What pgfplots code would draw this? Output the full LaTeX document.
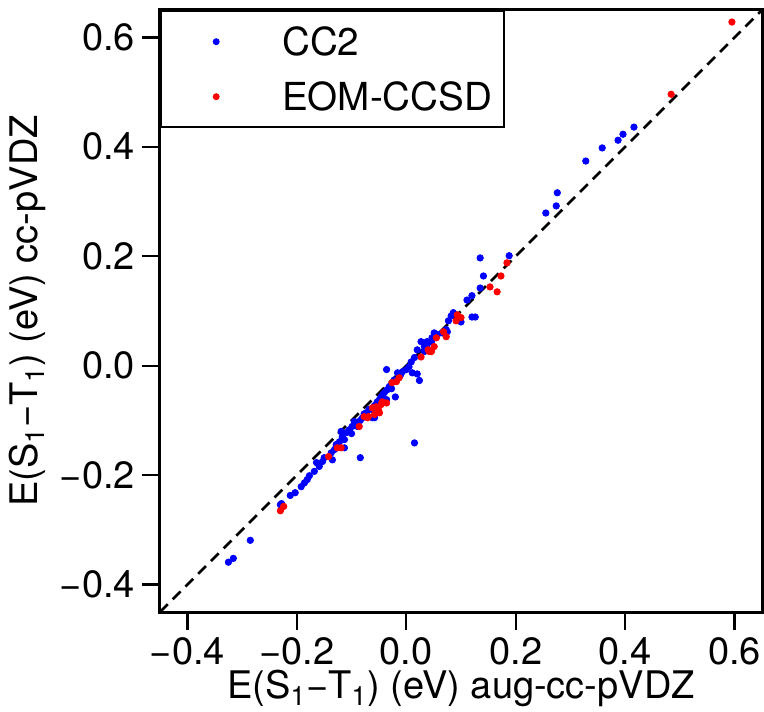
\documentclass[border=0pt]{standalone}
\usepackage{fontspec}
\setmainfont{TeX Gyre Heros}
\usepackage{pgfplots}
\usepackage{pgfplotstable}
\pgfplotsset{compat=1.18}
\pgfplotstableread{
x y
-0.325 -0.359
-0.316 -0.352
-0.285 -0.319
-0.230 -0.254
-0.228 -0.252
-0.212 -0.237
-0.203 -0.232
-0.192 -0.221
-0.186 -0.214
-0.181 -0.208
-0.177 -0.201
-0.168 -0.193
-0.164 -0.177
-0.159 -0.184
-0.153 -0.175
-0.150 -0.168
-0.137 -0.159
-0.135 -0.172
-0.131 -0.153
-0.128 -0.144
-0.122 -0.139
-0.119 -0.120
-0.117 -0.130
-0.113 -0.150
-0.113 -0.135
-0.109 -0.122
-0.104 -0.117
-0.100 -0.124
-0.099 -0.111
-0.095 -0.102
-0.092 -0.108
-0.089 -0.111
-0.084 -0.168
-0.084 -0.100
-0.080 -0.095
-0.077 -0.088
-0.073 -0.086
-0.068 -0.080
-0.062 -0.095
-0.062 -0.080
-0.058 -0.095
-0.058 -0.073
-0.055 -0.071
-0.053 -0.066
-0.049 -0.062
-0.046 -0.057
-0.043 -0.053
-0.040 -0.049
-0.036 -0.062
-0.035 -0.044
-0.031 -0.038
-0.027 -0.042
-0.020 -0.057
-0.036 -0.007
-0.022 -0.026
-0.016 -0.013
-0.011 -0.018
-0.007 -0.011
0.000 -0.007
0.005 -0.002
0.011 -0.013
0.020 -0.015
0.024 -0.027
0.009 0.007
0.015 0.015
0.020 0.029
0.033 0.026
0.038 0.038
0.047 0.051
0.057 0.057
0.066 0.060
0.075 0.062
0.027 0.044
0.033 0.035
0.038 0.044
0.046 0.044
0.051 0.060
0.073 0.066
0.077 0.082
0.082 0.091
0.086 0.097
0.100 0.080
0.120 0.089
0.126 0.089
0.111 0.120
0.120 0.128
0.135 0.142
0.141 0.164
0.135 0.197
0.188 0.201
0.255 0.279
0.274 0.292
0.276 0.316
0.328 0.374
0.358 0.398
0.387 0.412
0.396 0.423
0.416 0.436
0.015 -0.141
}\cctwo
\pgfplotstableread{
x y
0.595 0.628
0.484 0.496
-0.224 -0.257
-0.230 -0.265
-0.142 -0.166
-0.126 -0.150
-0.119 -0.150
-0.086 -0.111
-0.077 -0.093
-0.071 -0.095
-0.069 -0.093
-0.062 -0.077
-0.058 -0.089
-0.055 -0.075
-0.051 -0.080
-0.049 -0.086
-0.046 -0.071
-0.044 -0.066
-0.036 -0.068
-0.026 -0.031
-0.018 -0.029
-0.013 -0.022
0.027 0.016
0.040 0.029
0.042 0.026
0.046 0.026
0.051 0.035
0.055 0.051
0.068 0.062
0.073 0.053
0.091 0.082
0.093 0.093
0.100 0.088
0.153 0.144
0.166 0.135
0.173 0.164
0.184 0.188
}\eomccsd
\begin{document}
\begin{tikzpicture}
\begin{axis}[name=ax, scale only axis, width=301pt, height=301pt,
  xmin=-0.45, xmax=0.65, ymin=-0.45, ymax=0.65,
  axis line style={line width=1.5pt},
  tick align=outside, major tick length=9pt,
  tick style={line width=1.2pt, black},
  xtick pos=left, ytick pos=left,
  xtick={-0.4,-0.2,0,0.2,0.4,0.6}, xticklabels={−0.4,−0.2,0.0,0.2,0.4,0.6},
  ytick={-0.4,-0.2,0,0.2,0.4,0.6}, yticklabels={−0.4,−0.2,0.0,0.2,0.4,0.6},
  tick label style={font=\fontsize{19}{22}\selectfont},
  label style={font=\fontsize{19}{22}\selectfont},
  xlabel={E(S\textsubscript{1}−T\textsubscript{1}) (eV) aug-cc-pVDZ},
  xlabel style={yshift=4pt},
  ylabel={E(S\textsubscript{1}−T\textsubscript{1}) (eV) cc-pVDZ},
  legend style={at={(0,1)}, anchor=north west, draw=black, line width=1.2pt,
    fill=white, inner xsep=0pt, inner ysep=1.5pt, row sep=0pt, column sep=0pt,
    font=\fontsize{19.3}{22}\selectfont,
    nodes={inner xsep=0pt, inner ysep=0pt, text height=20.6pt, text depth=6.9pt}},
  legend cell align=left,
]
\addplot[black, line width=1.3pt, dash pattern=on 5.5pt off 3.5pt, forget plot] coordinates {(-0.45,-0.45) (0.65,0.65)};
\addplot[blue, only marks, mark=*, mark size=1.6pt, mark options={draw=blue, fill=blue},
  legend image code/.code={\path[draw=none, fill=none] (-27.5pt,-13.75pt) rectangle (33pt,13.75pt); \fill[blue] (0,0) circle (1.1pt);}]
  table {\cctwo};
\addlegendentry{\makebox[111pt][l]{CC2}}
\addplot[red, only marks, mark=*, mark size=1.6pt, mark options={draw=red, fill=red},
  legend image code/.code={\path[draw=none, fill=none] (-27.5pt,-13.75pt) rectangle (33pt,13.75pt); \fill[red] (0,0) circle (1.1pt);}]
  table {\eomccsd};
\addlegendentry{\makebox[111pt][l]{EOM-CCSD}}
\end{axis}
\pgfresetboundingbox
\path ([shift={(-80pt,-49.5pt)}]ax.south west) rectangle ([shift={(1pt,5pt)}]ax.north east);
\end{tikzpicture}
\end{document}
